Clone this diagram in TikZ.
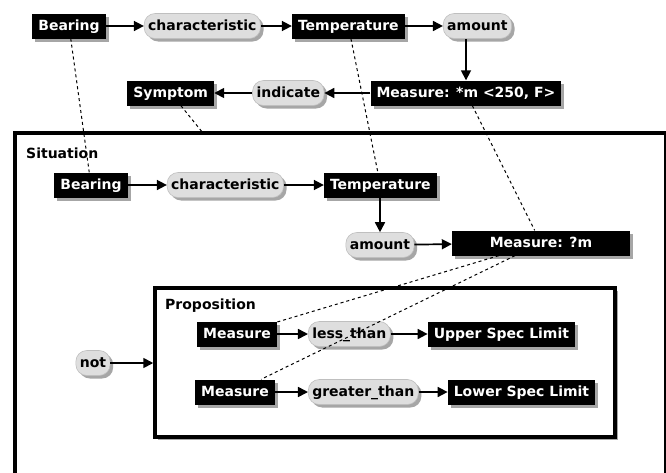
\documentclass[tikz,border=0pt]{standalone}
\usepackage{fontspec}
\setmainfont{DejaVu Sans}
\usetikzlibrary{arrows.meta,positioning,shadows}
\newcommand{\cgfont}{\fontsize{14}{16}\selectfont\bfseries}
\tikzset{
  gshadow/.style={drop shadow={shadow xshift=3pt,shadow yshift=-3pt,fill=black!35,opacity=1}},
  concept/.style={gshadow,fill=black,text=white,font=\cgfont,minimum height=25pt,text height=10pt,text depth=2pt,inner xsep=6pt,inner ysep=2pt},
  relation/.style={gshadow,fill=black!13,draw=black!25,line width=0.6pt,rounded corners=11pt,font=\cgfont,minimum height=25pt,text height=10pt,text depth=2pt,inner xsep=4pt,inner ysep=2pt},
  ctxbox/.style={draw=black,fill=white,line width=3.5pt},
  ctxlabel/.style={font=\cgfont,inner sep=0pt,anchor=west},
  link/.style={line width=1.7pt,-{Triangle[length=10pt,width=10pt]}},
  coref/.style={line width=1pt,dash pattern=on 3pt off 3pt}
}
\begin{document}
\begin{tikzpicture}[x=1pt,y=-1pt]
\useasboundingbox (0,0) rectangle (666,472);
\clip (0,0) rectangle (666,472);
% contexts
\node[ctxbox,minimum width=651pt,minimum height=347pt] (sit) at (340.5,306.5) {};
\node[ctxbox,gshadow,minimum width=460pt,minimum height=149pt] (prop) at (385,362.5) {};
\node[ctxlabel] (sitlbl) at (26,153) {Situation};
\node[ctxlabel] (proplbl) at (165,306) {Proposition};
% outer graph
\node[concept] (bear1) at (69,26) {Bearing};
\node[relation,right=38pt of bear1] (char1) {characteristic};
\node[concept,right=31pt of char1] (temp1) {Temperature};
\node[relation,right=38pt of temp1] (amt1) {amount};
\node[concept] (meas1) at (466,93) {Measure: *m <250, F>};
\node[relation,left=46pt of meas1] (ind1) {indicate};
\node[concept,left=38pt of ind1] (sym) {Symptom};
\draw[link] (bear1) -- (char1);
\draw[link] (char1) -- (temp1);
\draw[link] (temp1) -- (amt1);
\draw[link] (amt1.south -| meas1) -- (meas1.north);
\draw[link] (meas1) -- (ind1);
\draw[link] (ind1) -- (sym);
% situation
\node[concept] (bear2) at (91,185) {Bearing};
\node[relation,right=39pt of bear2] (char2) {characteristic};
\node[concept,right=40pt of char2] (temp2) {Temperature};
\node[relation] (amt2) at (380,245) {amount};
\node[concept,minimum width=178pt] (meas2) at (541,243) {Measure: ?m};
\draw[link] (bear2) -- (char2);
\draw[link] (char2) -- (temp2);
\draw[link] (temp2.south -| amt2) -- (amt2.north);
\draw[link] (amt2) -- (meas2);
% proposition
\node[concept] (m1) at (237,334) {Measure};
\node[relation,right=31pt of m1] (less) {less\_than};
\node[concept,right=37pt of less] (usl) {Upper Spec Limit};
\node[concept] (m2) at (235,392) {Measure};
\node[relation,right=33pt of m2] (greater) {greater\_than};
\node[concept,right=29pt of greater] (lsl) {Lower Spec Limit};
\node[relation] (not) at (93,363) {not};
\draw[link] (m1) -- (less);
\draw[link] (less) -- (usl);
\draw[link] (m2) -- (greater);
\draw[link] (greater) -- (lsl);
\draw[link] (not) -- (not -| prop.west);
% coreference links
\draw[coref] (bear1) -- (bear2);
\draw[coref] (temp1) -- (temp2);
\draw[coref] (sym) -- (sit);
\draw[coref] (meas1) -- (meas2);
\draw[coref] (meas2) -- (m1);
\draw[coref] (meas2) -- (m2);
\end{tikzpicture}
\end{document}
